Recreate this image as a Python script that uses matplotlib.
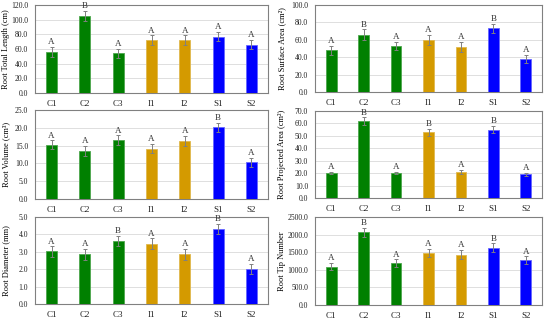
import numpy as np
import matplotlib.pyplot as plt

# Root morphology panels: 3 x 2 bar charts with error bars and letters

treatments = ["C1", "C2", "C3", "I1", "I2", "S1", "S2"]
bar_colors = ["#008000", "#008000", "#008000", "#D49A00", "#D49A00", "#0000FF", "#0000FF"]
edge_colors = ["#4da64d", "#4da64d", "#4da64d", "#e0b84d", "#e0b84d", "#6666ff", "#6666ff"]

total_length = [56.0, 105.0, 54.0, 72.0, 72.0, 77.0, 66.0]
total_length_err = [7.0, 7.0, 6.0, 6.5, 6.5, 6.0, 6.5]
total_length_sig = ["A", "B", "A", "A", "A", "A", "A"]

surface_area = [48.0, 66.0, 53.0, 60.0, 52.0, 73.0, 38.0]
surface_area_err = [5.0, 6.0, 5.0, 5.5, 5.5, 5.0, 5.0]
surface_area_sig = ["A", "B", "A", "A", "A", "B", "A"]

volume = [15.3, 13.6, 16.6, 14.1, 16.3, 20.1, 10.3]
volume_err = [1.2, 1.4, 1.3, 1.3, 1.4, 1.3, 1.2]
volume_sig = ["A", "A", "A", "A", "A", "B", "A"]

projected_area = [20.0, 62.0, 20.0, 53.0, 21.0, 55.0, 19.0]
projected_area_err = [1.0, 3.0, 1.0, 2.8, 1.5, 2.8, 1.0]
projected_area_sig = ["A", "B", "A", "B", "A", "B", "A"]

diameter = [3.02, 2.85, 3.62, 3.47, 2.85, 4.33, 2.0]
diameter_err = [0.3, 0.3, 0.28, 0.3, 0.32, 0.28, 0.3]
diameter_sig = ["A", "A", "B", "A", "A", "B", "A"]

tip_number = [1090, 2060, 1190, 1470, 1430, 1630, 1270]
tip_number_err = [100, 140, 110, 120, 130, 120, 110]
tip_number_sig = ["A", "B", "A", "A", "A", "B", "A"]

panels = [
    # (values, errors, letters, ylabel, ymax, step, box in px: left, top, right, bottom)
    (total_length, total_length_err, total_length_sig, "Root Total Length (cm)", 120, 20, (35, 5, 268, 93)),
    (surface_area, surface_area_err, surface_area_sig, "Root Surface Area (cm²)", 100, 20, (315, 5, 542, 92)),
    (volume, volume_err, volume_sig, "Root Volume (cm³)", 25, 5, (35, 110, 268, 199)),
    (projected_area, projected_area_err, projected_area_sig, "Root Projected Area (cm²)", 70, 10, (315, 111, 542, 198)),
    (diameter, diameter_err, diameter_sig, "Root Diameter (mm)", 5, 1, (35, 217, 268, 304)),
    (tip_number, tip_number_err, tip_number_sig, "Root Tip Number", 2500, 500, (315, 217, 542, 305)),
]

W, H = 550, 320
plt.rcParams["font.family"] = ["Liberation Serif", "DejaVu Serif"]

fig = plt.figure(figsize=(W / 100, H / 100), dpi=100)

x = np.arange(len(treatments))
for vals, errs, sig, ylabel, ymax, step, (l, t, r, b) in panels:
    ax = fig.add_axes([l / W, 1 - b / H, (r - l) / W, (b - t) / H])
    ax.bar(x, vals, width=0.33, color=bar_colors, edgecolor=edge_colors,
           linewidth=0.6, zorder=3)
    ax.errorbar(x, vals, yerr=errs, fmt="none", ecolor="#808080",
                elinewidth=0.7, capsize=1.5, capthick=0.7, zorder=4)
    for xi, v, e, s in zip(x, vals, errs, sig):
        ax.text(xi, v + e + ymax * 0.008, s, ha="center", va="bottom",
                fontsize=6.5, color="#333333", zorder=5)
    ax.set_xlim(-0.5, len(treatments) - 0.5)
    ax.set_ylim(0, ymax)
    ax.set_yticks(np.arange(0, ymax + step / 2, step))
    ax.yaxis.set_major_formatter(plt.FormatStrFormatter("%.1f"))
    ax.set_xticks(x)
    ax.set_xticklabels(treatments)
    ax.tick_params(axis="both", length=0, colors="#222222")
    ax.tick_params(axis="y", pad=5, labelsize=5.5)
    ax.tick_params(axis="x", pad=5, labelsize=6.5)
    ax.grid(axis="y", color="#d9d9d9", linewidth=0.6, zorder=0)
    for sp in ax.spines.values():
        sp.set_color("#808080")
        sp.set_linewidth(0.8)
    ax.set_ylabel(ylabel, fontsize=6)
    # label's right edge at a fixed pixel column for each figure column
    label_right = 10 if l < 200 else 286
    ax.yaxis.set_label_coords((label_right - l) / (r - l), 0.5)

fig.savefig("out.png", dpi=100)
